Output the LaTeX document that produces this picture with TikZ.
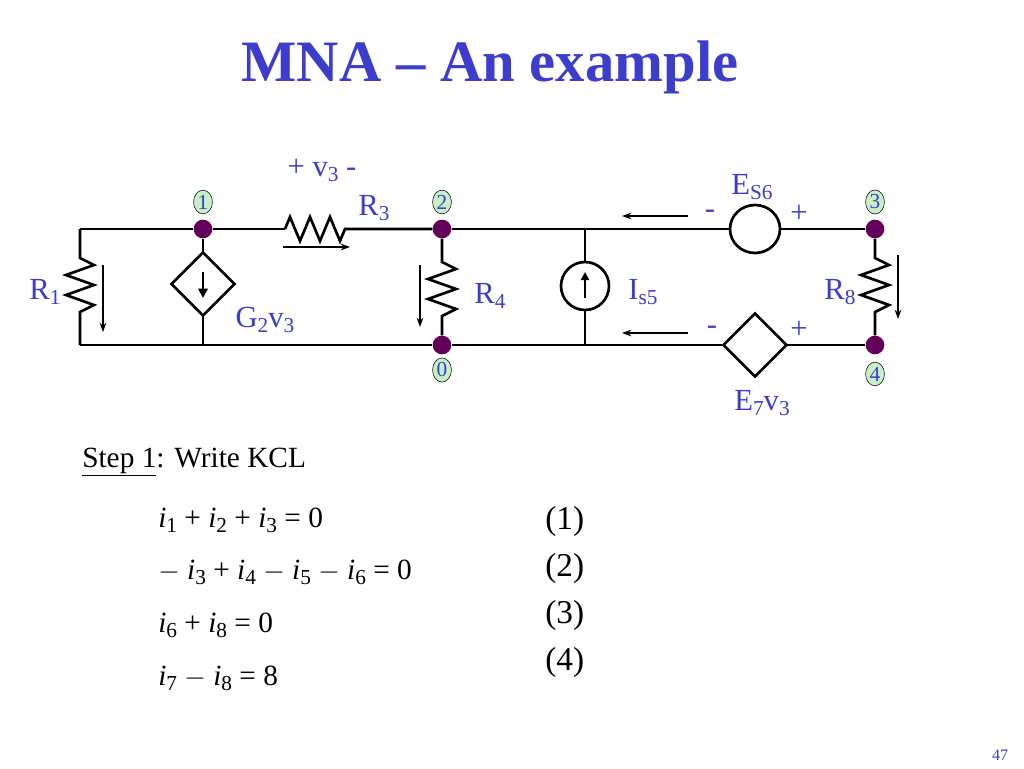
\documentclass[tikz,border=0pt]{standalone}
\usepackage{fontspec}
\setmainfont{Liberation Serif}
\usetikzlibrary{shapes.geometric,arrows.meta}
\definecolor{tblue}{RGB}{60,60,205}
\definecolor{ngreen}{RGB}{200,240,200}
\definecolor{dot}{RGB}{100,0,90}
\newcommand{\sbs}[1]{\raisebox{-0.35ex}{\fontsize{16}{16}\selectfont #1}}
\newcommand{\ci}[1]{\textit{i}\sbs{#1}}
\begin{document}
\begin{tikzpicture}[x=0.75pt,y=-0.75pt,
  wire/.style={line width=2pt},
  lbl/.style={text=tblue,font=\fontsize{23}{23}\selectfont,inner sep=0},
  dotn/.style={circle,fill=dot,minimum size=14pt,inner sep=0},
  num/.style={ellipse,draw=black,fill=ngreen,line width=0.4pt,inner sep=1pt,text=tblue,font=\fontsize{16}{16}\selectfont},
  arr/.style={-{Stealth[length=7pt,width=5pt]},line width=0.8pt},
  eq/.style={anchor=west,font=\fontsize{22}{22}\selectfont,inner sep=0}]
\useasboundingbox (0,0) rectangle (1024,768);
\node[text=tblue,font=\fontsize{44}{44}\selectfont\bfseries] (title) at (490,67) {MNA -- An example};
% nodes
\node[dotn] (n1) at (203,229) {};
\node[dotn] (n2) at (442,229) {};
\node[dotn] (n0) at (442,345) {};
\node[dotn] (n3) at (875,229) {};
\node[dotn] (n4) at (875,345) {};
\coordinate (tl) at (80,229); \coordinate (bl) at (80,345);
\coordinate (g1) at (203,345);
\coordinate (i5t) at (585,229); \coordinate (i5b) at (585,345);
% wires
\draw[wire] (tl) -- (n1) -- (285,229);
\draw[wire] (285,229) -- ++(5,-12) -- ++(10,24) -- ++(10,-24) -- ++(10,24) -- ++(10,-24) -- ++(10,24) -- ++(5,-12) -- (n2);
\draw[wire] (n2) -- (i5t) -- (730,229);
\draw[wire] (780,229) -- (n3);
\draw[wire] (bl) -- (g1) -- (n0) -- (i5b) -- (723,345);
\draw[wire] (787,345) -- (n4);
% R1
\draw[wire] (tl) -- (80,258) -- ++(14,7) -- ++(-28,10) -- ++(28,10) -- ++(-28,10) -- ++(28,10) -- ++(-14,7) -- (bl);
% R4
\draw[wire] (n2) -- (442,262) -- ++(14,7) -- ++(-28,10) -- ++(28,10) -- ++(-28,10) -- ++(28,10) -- ++(-14,7) -- (n0);
% R8
\draw[wire] (n3) -- (875,258) -- ++(14,7) -- ++(-28,10) -- ++(28,10) -- ++(-28,10) -- ++(28,10) -- ++(-14,7) -- (n4);
% G2 diamond
\node[diamond,draw,line width=2pt,minimum width=64pt*0.75,minimum height=64pt*0.75,inner sep=0] (G2) at (203,284) {};
\draw[wire] (n1) -- (G2.north); \draw[wire] (G2.south) -- (g1);
\draw[-{Triangle[length=7pt,width=7pt]},line width=2pt] (203,272) -- (203,298);
% Is5
\node[circle,draw,line width=2pt,minimum size=48pt*0.75,inner sep=0] (I5) at (585,286) {};
\draw[wire] (i5t) -- (I5.north); \draw[wire] (I5.south) -- (i5b);
\draw[-{Triangle[length=6pt,width=6pt]},line width=2pt] (585,298) -- (585,272);
% Es6
\node[ellipse,draw,line width=2pt,minimum width=50pt*0.75,minimum height=48pt*0.75,inner sep=0] (E6) at (755,229) {};
% E7 diamond
\node[diamond,draw,line width=2pt,minimum width=64pt*0.75,minimum height=64pt*0.75,inner sep=0] (E7) at (755,345) {};
% current arrows
\draw[arr] (103,265) -- (103,332);
\draw[arr] (283,247) -- (350,247);
\draw[arr] (420,265) -- (420,327);
\draw[arr] (898,255) -- (898,319);
\draw[arr] (688,216) -- (622,216);
\draw[arr] (688,333) -- (622,333);
% node numbers
\node[num] (l1) at (203,202) {1};
\node[num] (l2) at (442,202) {2};
\node[num] (l3) at (875,202) {3};
\node[num] (l0) at (442,370) {0};
\node[num] (l4) at (875,374) {4};
% labels
\node[lbl] (v3) at (322,170) {+ v\sbs{3} -};
\node[lbl] (R3) at (374,208) {R\sbs{3}};
\node[lbl] (R1) at (45,292) {R\sbs{1}};
\node[lbl] (G2v) at (265,320) {G\sbs{2}v\sbs{3}};
\node[lbl] (R4) at (490,296) {R\sbs{4}};
\node[lbl] (Is5) at (643,292) {I\sbs{s5}};
\node[lbl] (R8) at (840,292) {R\sbs{8}};
\node[lbl] (Es6) at (752,187) {E\sbs{S6}};
\node[lbl] (m1) at (710,214) {-};
\node[lbl] (p1) at (799,214) {+};
\node[lbl] (m2) at (712,330) {-};
\node[lbl] (p2) at (799,330) {+};
\node[lbl] (E7v) at (762,403) {E\sbs{7}v\sbs{3}};
% text
\node[eq] (step) at (82,462) {\underline{Step 1}: Write KCL};
\node[eq] (e1) at (158,520) {\ci{1} + \ci{2} + \ci{3} = 0};
\node[eq] (e2) at (158,572) {$-$ \ci{3} + \ci{4} $-$ \ci{5} $-$ \ci{6} = 0};
\node[eq] (e3) at (158,625) {\ci{6} + \ci{8} = 0};
\node[eq] (e4) at (158,678) {\ci{7} $-$ \ci{8} = 8};
\node[eq,font=\fontsize{25}{25}\selectfont] (k1) at (545,521) {(1)};
\node[eq,font=\fontsize{25}{25}\selectfont] (k2) at (545,568) {(2)};
\node[eq,font=\fontsize{25}{25}\selectfont] (k3) at (545,615) {(3)};
\node[eq,font=\fontsize{25}{25}\selectfont] (k4) at (545,662) {(4)};
\node[text=tblue,font=\fontsize{12}{12}\selectfont] (pg) at (1000,755) {47};
\end{tikzpicture}
\end{document}
